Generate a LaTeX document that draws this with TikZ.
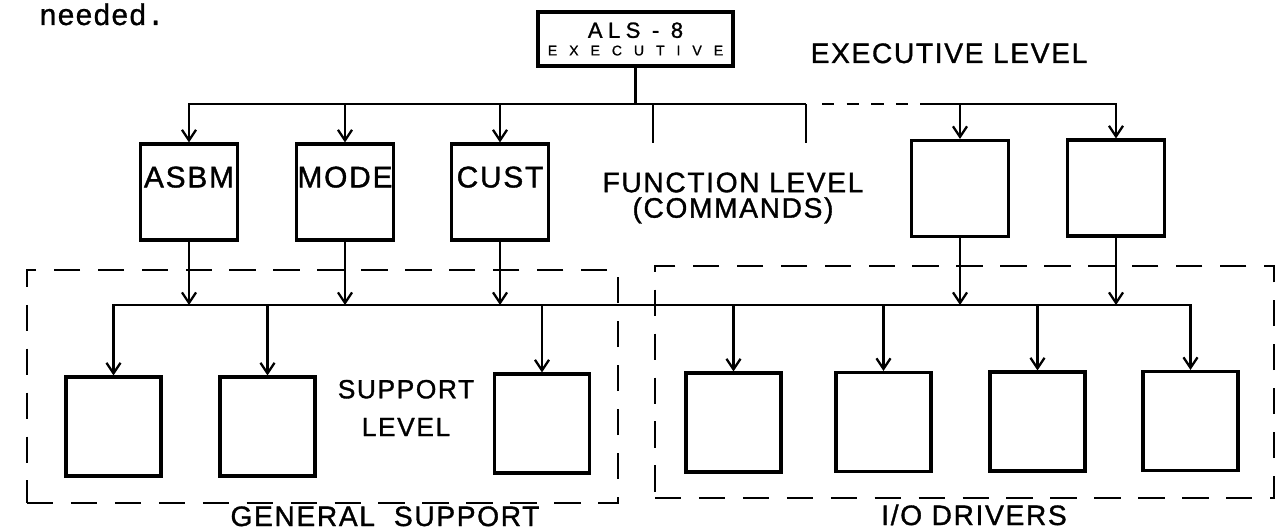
\documentclass[tikz,border=0pt]{standalone}
\usepackage{fontspec}
\usepackage{tikz}
\usetikzlibrary{arrows.meta}
\newfontfamily\hand[LetterSpace=6,FakeBold=1.2]{Liberation Sans}
\newfontfamily\handwide[LetterSpace=25,FakeBold=1.2]{Liberation Sans}
\newfontfamily\handwider[LetterSpace=85,FakeBold=1]{Liberation Sans}
\newfontfamily\typer[FakeBold=0.8]{Liberation Mono}

\begin{document}
\begin{tikzpicture}[x=0.02cm, y=-0.02cm, line width=1.3pt,
    >={Straight Barb[length=6pt,width=8pt]},
    modbox/.style={draw, line width=1.8pt, inner sep=0pt, minimum width=1.94cm, minimum height=1.92cm},
    subbox/.style={draw, line width=1.8pt, inner sep=0pt, minimum width=1.9cm, minimum height=1.98cm},
    grp/.style={draw, line width=1.2pt, dash pattern=on 15pt off 10pt, inner sep=0pt},
    lvl/.style={font=\hand\fontsize{16}{15}\selectfont, align=center, inner sep=0pt},
    boxtext/.style={font=\hand\fontsize{17}{17}\selectfont, anchor=base, yshift=-0.9cm, inner sep=0pt}]
    \useasboundingbox (0,0) rectangle (1284,530);

    \node[anchor=base west, inner sep=0pt, font=\typer\fontsize{17}{18}\selectfont] (needed) at (38,25) {needed.};

    % executive level
    \node[draw, line width=1.8pt, inner sep=0pt, minimum width=3.9cm, minimum height=1.08cm,
          align=center, font=\fontsize{8}{11}\selectfont] (exec) at (635.5,39)
        {{\handwide\fontsize{12.5}{14}\selectfont ALS - 8}\\[-1pt]{\handwider\fontsize{8}{10}\selectfont EXECUTIVE}};
    \node[lvl, anchor=base] (execlvl) at (949,63) {EXECUTIVE LEVEL};

    % function level (commands)
    \node[modbox, label={[boxtext]north:ASBM}] (asbm) at (189,192) {};
    \node[modbox, label={[boxtext]north:MODE}] (mode) at (345,192) {};
    \node[modbox, label={[boxtext]north:CUST}] (cust) at (500,192) {};
    \node[modbox] (fnA) at (960,188.5) {};
    \node[modbox] (fnB) at (1116,188) {};
    \node[lvl, font=\hand\fontsize{16}{14.5}\selectfont] (fnlvl) at (733,198) {FUNCTION LEVEL\\(COMMANDS)};

    % support level and drivers
    \node[subbox] (supA) at (113.5,426.5) {};
    \node[subbox] (supB) at (267.5,426.5) {};
    \node[subbox] (supC) at (542,423.5) {};
    \node[subbox] (ioA) at (733.5,422.5) {};
    \node[subbox] (ioB) at (883.5,422) {};
    \node[subbox] (ioC) at (1037.5,421.5) {};
    \node[subbox] (ioD) at (1190.5,421) {};
    \node[lvl, font=\hand\fontsize{15}{21.5}\selectfont] (suplvl) at (406,408) {SUPPORT\\LEVEL};

    % groups
    \node[grp, minimum width=11.82cm, minimum height=4.66cm] (gensup) at (322.5,386.5) {};
    \node[grp, minimum width=12.38cm, minimum height=4.64cm] (iodrv) at (964.5,382) {};
    \node[lvl, anchor=base] (gensupname) at (385,526) {GENERAL\ \ SUPPORT};
    \node[lvl, anchor=base] (iodrvname) at (974,525) {I/O DRIVERS};

    % top bus
    \coordinate (tbus) at (0,104);
    \coordinate (stubA) at (653,143);
    \coordinate (stubB) at (806,143);
    \coordinate (dashstart) at (822,104);
    \coordinate (dashend) at (924,104);
    \draw (exec.south) -- (exec.south |- tbus);
    \draw[<-] (asbm.north) |- (stubB |- tbus);
    \draw[dash pattern=on 7pt off 7pt] (dashstart) -- (dashend);
    \draw[->] (dashend) -| (fnB.north);
    \foreach \b in {mode,cust,fnA}
        \draw[->] (\b.north |- tbus) -- (\b.north);
    \foreach \c in {stubA,stubB}
        \draw (\c |- tbus) -- (\c);

    % lower bus
    \coordinate (lbus) at (0,305);
    \foreach \b in {asbm,mode,cust,fnA,fnB}
        \draw[->] (\b.south) -- (\b.south |- lbus);
    \draw[<->] (supA.north) |- (ioD.north |- lbus) -- (ioD.north);
    \foreach \b in {supB,supC,ioA,ioB,ioC}
        \draw[->] (\b.north |- lbus) -- (\b.north);
\end{tikzpicture}
\end{document}
